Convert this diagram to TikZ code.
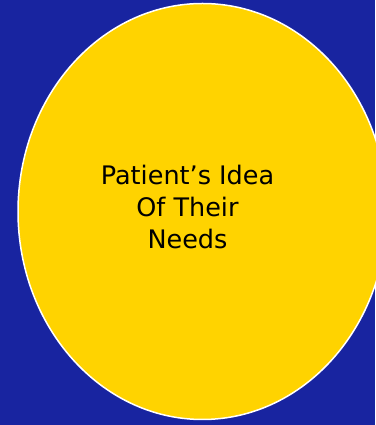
\documentclass[tikz,border=0pt]{standalone}
\usepackage{fontspec}
\setmainfont{DejaVu Sans}
\usetikzlibrary{shapes.geometric}
\definecolor{slideblue}{RGB}{24,36,160}
\definecolor{slideyellow}{RGB}{255,211,0}

\begin{document}
\begin{tikzpicture}[x=1pt,y=1pt,every node/.style={font=\fontsize{25.5}{32}\selectfont}]
        \useasboundingbox (0,0) rectangle (375,425);
        \fill[slideblue] (0,0) rectangle (375,425);
        \node[ellipse,fill=slideyellow,draw=white,line width=1.5pt,inner sep=0pt,
              minimum width=369pt,minimum height=416pt] (needs) at (202.5,213.5) {};
        \node[align=center] (idea) at ([xshift=-15pt,yshift=4.5pt]needs.center)
              {Patient’s Idea\\Of Their\\Needs};
      \end{tikzpicture}
\end{document}
